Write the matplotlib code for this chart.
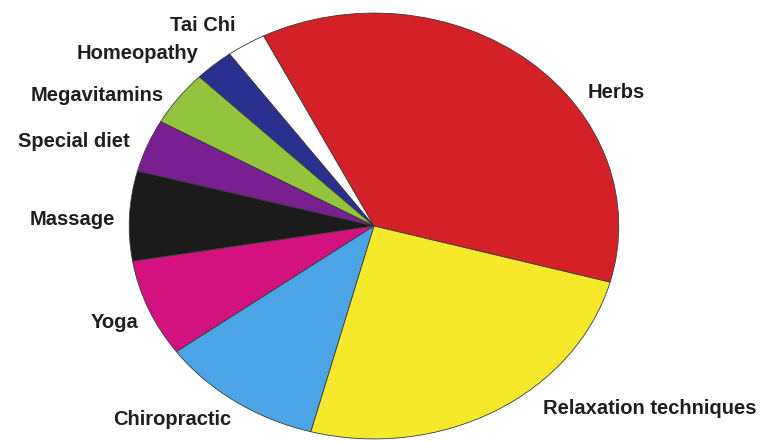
import matplotlib.pyplot as plt

# share of respondents using each therapy (percent), counter-clockwise from Herbs
therapies = ["Herbs", "Tai Chi", "Homeopathy", "Megavitamins", "Special diet",
             "Massage", "Yoga", "Chiropractic", "Relaxation techniques"]
shares = [36.7, 2.6, 2.6, 4.2, 4.0, 6.8, 7.4, 10.8, 24.9]
colors = ["#d42027", "#ffffff", "#2b2f8f", "#94c43e", "#7a1f92",
          "#1b1b1b", "#d4127f", "#4ba4e6", "#f6e92c"]

# label anchors in axes-data units (pie spans -1..1 in both directions)
label_pos = {
    "Herbs": (0.99, 0.625),
    "Tai Chi": (-0.70, 0.94),
    "Homeopathy": (-0.964, 0.81),
    "Megavitamins": (-1.13, 0.615),
    "Special diet": (-1.225, 0.395),
    "Massage": (-1.234, 0.03),
    "Yoga": (-1.058, -0.455),
    "Chiropractic": (-0.825, -0.91),
    "Relaxation techniques": (1.127, -0.855),
}

fig = plt.figure(figsize=(7.65, 4.41), dpi=100)
ax = fig.add_axes([128 / 765, 1 / 441, 492 / 765, 428 / 441])

wedges, _ = ax.pie(shares, colors=colors, startangle=-15.3, counterclock=True,
                   wedgeprops=dict(edgecolor="#3a3a3a", linewidth=0.6))
# stretched into an ellipse, the way the original graphic was drawn
ax.set_aspect("auto")
ax.set_xlim(-1.005, 1.005)
ax.set_ylim(-1.005, 1.005)

for name in therapies:
    x, y = label_pos[name]
    ax.text(x, y, name, ha="center", va="center", fontsize=14.5,
            fontweight="bold", family="Liberation Sans", color="#1e1e1e",
            clip_on=False)

fig.savefig("out.png", dpi=100)
